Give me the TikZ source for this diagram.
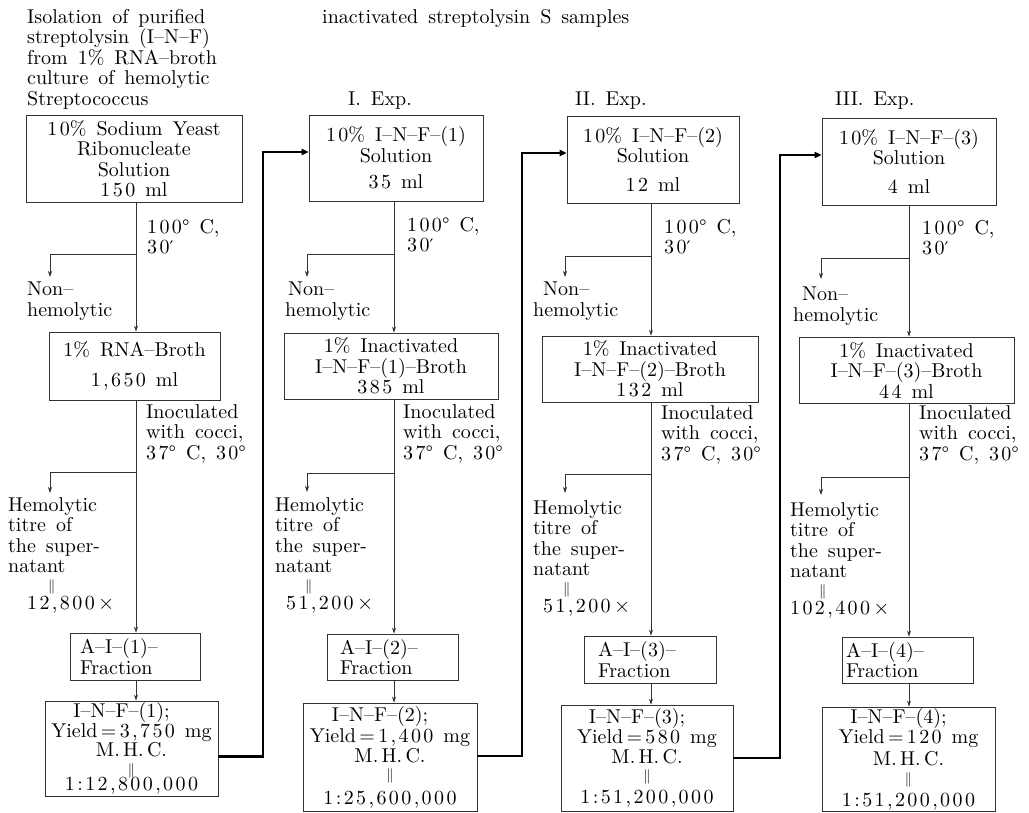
\documentclass[tikz,border=0pt]{standalone}
\usepackage{fontspec}
\setmainfont{lmroman10-regular.otf}[WordSpace=1.5]
\newfontfamily\dv{DejaVu Serif}
\usetikzlibrary{arrows.meta}
\newcommand\fs{\fontsize{20}{20.5}\selectfont}
\newcommand\dbar{{\fontsize{15}{15}\selectfont$\|$}}
\newcommand\nm[1]{{\addfontfeature{LetterSpace=12}#1}}
\newcommand\pr{{\dv\fontsize{17}{17}\selectfont ′}}
\begin{document}
\begin{tikzpicture}[x=1pt,y=-1pt,
 box/.style={draw=black!80, line width=0.7pt, inner sep=0pt, align=center, font=\fs},
 txt/.style={inner sep=0pt, align=left, anchor=north west, font=\fs},
 ln/.style={draw=black!80, line width=0.7pt},
 arr/.style={ln, -{Stealth[length=6pt,width=4pt]}},
 thk/.style={draw=black, line width=2.8pt, -{Triangle[length=7pt,width=6pt]}},
]
\fill[white] (0,0) rectangle (1029,813);
\useasboundingbox (0,0) rectangle (1029,813);

% headings
\node[txt] (tit) at (27,9) {Isolation of purified\\streptolysin (I--N--F)\\from 1\% RNA--broth\\culture of hemolytic\\Streptococcus};
\node[txt] (head) at (322,9) {inactivated streptolysin S samples};
\node[txt] (e1) at (348,92) {I. Exp.};
\node[txt] (e2) at (575,92) {II. Exp.};
\node[txt] (e3) at (835,92) {III. Exp.};

% column x positions
\coordinate (x1) at (136,0);
\coordinate (x2) at (394,0);
\coordinate (x3) at (651,0);
\coordinate (x4) at (909,0);

% ---------- column 1
\node[box, minimum width=216pt, minimum height=87pt] (b1a) at (134,158.5) {\nm{10}\% Sodium Yeast\\Ribonucleate\\Solution\\\nm{150} ml};
\node[box, minimum width=171pt, minimum height=68pt] (b1b) at (134.5,366) {\nm{1}\% RNA--Broth\\[9pt]\nm{1,650} ml};
\node[box, minimum width=130pt, minimum height=47pt, align=left, text width=110pt] (b1c) at (135,656.5) {A--I--(1)--\\Fraction};
\node[box, minimum width=173pt, minimum height=95pt] (b1d) at (131.5,748.5) {I--N--F--(1);\hspace*{20pt}\\[-1pt]Yield\,=\,\nm{3,750} mg\\[-1pt]M.\,H.\,C.\\[-3pt]\dbar\\[-4pt]\nm{1:12,800,000}};
\node[txt] (c1a) at (147,219) {\nm{100}°\enspace C,\\\nm{30}\pr};
\node[txt] (n1) at (27,282) {Non--\\hemolytic};
\node[txt] (c1b) at (146,404) {Inoculated\\with cocci,\\\nm{37}° C, \nm{30}°};
\node[txt] (h1) at (8,497) {Hemolytic\\titre of\\the super-\\natant\\[-3pt]\hspace*{40pt}\dbar\\[-1pt]\hspace*{19pt}\nm{12,800}\,$\times$};

% ---------- column 2
\node[box, minimum width=174pt, minimum height=86pt] (b2a) at (396,158) {\nm{10}\% I--N--F--(1)\\Solution\\[6pt]\nm{35} ml};
\node[box, minimum width=214pt, minimum height=66pt] (b2b) at (391,366) {\nm{1}\% Inactivated\\I--N--F--(1)--Broth\\\nm{385} ml};
\node[box, minimum width=131pt, minimum height=46pt, align=left, text width=105pt] (b2c) at (392.5,657) {A--I--(2)--\\Fraction};
\node[box, minimum width=174pt, minimum height=108pt] (b2d) at (390,757) {I--N--F--(2);\hspace*{20pt}\\[0.5pt]Yield\,=\,\nm{1,400} mg\\[-0.5pt]M.\,H.\,C.\\[-3.5pt]\dbar\\[4.5pt]\nm{1:25,600,000}};
\node[txt] (c2a) at (407,217) {\nm{100}°\enspace C,\\\nm{30}\pr};
\node[txt] (n2) at (285,282) {\hspace*{3pt}Non--\\hemolytic};
\node[txt] (c2b) at (403,404) {Inoculated\\with cocci,\\\nm{37}° C, \nm{30}°};
\node[txt] (h2) at (275,497) {Hemolytic\\titre of\\the super-\\natant\\[-3pt]\hspace*{30pt}\dbar\\[-1pt]\hspace*{11pt}\nm{51,200}\,$\times$};

% ---------- column 3
\node[box, minimum width=172pt, minimum height=87pt] (b3a) at (653,159.5) {\nm{10}\% I--N--F--(2)\\Solution\\[8pt]\nm{12} ml};
\node[box, minimum width=216pt, minimum height=66pt] (b3b) at (650,369) {\nm{1}\% Inactivated\\I--N--F--(2)--Broth\\\nm{132} ml};
\node[box, minimum width=132pt, minimum height=47pt, align=left, text width=104pt] (b3c) at (650,659.5) {A--I--(3)--\\Fraction};
\node[box, minimum width=172pt, minimum height=106pt] (b3d) at (647,758) {I--N--F--(3);\hspace*{20pt}\\[-0.5pt]Yield\,=\,\nm{580} mg\\[-0.5pt]M.\,H.\,C.\\[-3.5pt]\dbar\\[3pt]\nm{1:51,200,000}};
\node[txt] (c3a) at (664,219) {\nm{100}°\enspace C,\\\nm{30}\pr};
\node[txt] (n3) at (533,282) {\hspace*{10pt}Non--\\hemolytic};
\node[txt] (c3b) at (661,405) {Inoculated\\with cocci,\\\nm{37}° C, \nm{30}°};
\node[txt] (h3) at (533,500) {Hemolytic\\titre of\\the super-\\natant\\[-3pt]\hspace*{30pt}\dbar\\[-1pt]\hspace*{10pt}\nm{51,200}\,$\times$};

% ---------- column 4
\node[box, minimum width=174pt, minimum height=87pt] (b4a) at (909,161.5) {\nm{10}\% I--N--F--(3)\\Solution\\[8pt]\nm{4} ml};
\node[box, minimum width=215pt, minimum height=66pt] (b4b) at (906.5,370) {\nm{1}\% Inactivated\\I--N--F--(3)--Broth\\\nm{44} ml};
\node[box, minimum width=131pt, minimum height=46pt, align=left, text width=123pt] (b4c) at (907.5,660) {A--I--(4)--\\Fraction};
\node[box, minimum width=173pt, minimum height=104pt] (b4d) at (908.5,759) {I--N--F--(4);\hspace*{20pt}\\[-0.5pt]Yield\,=\,\nm{120} mg\\[1.5pt]M.\,H.\,C.\\[-2.5pt]\dbar\\[2.5pt]\nm{1:51,200,000}};
\node[txt] (c4a) at (922,220) {\nm{100}°\enspace C,\\\nm{30}\pr};
\node[txt] (n4) at (793,287) {\hspace*{9pt}Non--\\hemolytic};
\node[txt] (c4b) at (919,405) {Inoculated\\with cocci,\\\nm{37}° C, \nm{30}°};
\node[txt] (h4) at (790,502) {Hemolytic\\titre of\\the super-\\natant\\[-3pt]\hspace*{29pt}\dbar\\[-1pt]\nm{102,400}\,$\times$};

% main vertical connectors
\foreach \c in {1,2,3,4}{
  \draw[arr] (b\c a.south -| x\c) -- (b\c b.north -| x\c);
  \draw[arr] (b\c b.south -| x\c) -- (b\c c.north -| x\c);
  \draw[arr] (b\c c.south -| x\c) -- (b\c d.north -| x\c);
}

% branch points and tips
\coordinate (j1n) at (136,254); \coordinate (t1n) at (50,277);
\coordinate (j1h) at (136,472); \coordinate (t1h) at (50,493);
\coordinate (j2n) at (394,254); \coordinate (t2n) at (307,277);
\coordinate (j2h) at (394,473); \coordinate (t2h) at (307,492);
\coordinate (j3n) at (651,256); \coordinate (t3n) at (565,277);
\coordinate (j3h) at (651,474); \coordinate (t3h) at (565,493);
\coordinate (j4n) at (909,258); \coordinate (t4n) at (821,279);
\coordinate (j4h) at (909,477); \coordinate (t4h) at (821,495);
\foreach \c in {1,2,3,4}{
  \draw[arr] (j\c n) -| (t\c n);
  \draw[arr] (j\c h) -| (t\c h);
}

% thick transfer connectors
\coordinate (k1) at (263,152);
\coordinate (k2) at (522,153);
\coordinate (k3) at (780,155);
\draw[thk] ([yshift=-8pt]b1d.east) -| (k1) -- (k1 -| b2a.west);
\draw[thk] ([yshift=1pt]b2d.east) -| (k2) -- (k2 -| b3a.west);
\draw[thk] (b3d.east) -| (k3) -- (k3 -| b4a.west);
\end{tikzpicture}
\end{document}
